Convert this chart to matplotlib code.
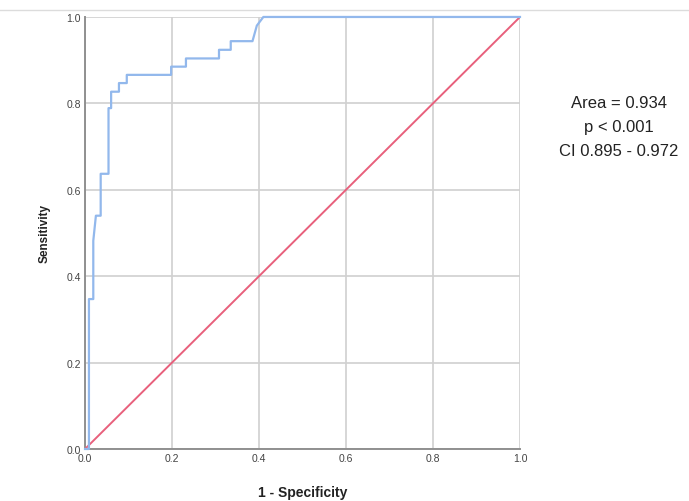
import matplotlib.pyplot as plt
from matplotlib.lines import Line2D

plt.rcParams['font.family'] = ['Liberation Sans', 'DejaVu Sans']

# ROC curve (1 - specificity, sensitivity)
fpr = [0.0, 0.009, 0.009, 0.019, 0.019, 0.025, 0.036, 0.036, 0.054, 0.054, 0.06, 0.06,
       0.078, 0.078, 0.096, 0.096, 0.198, 0.198, 0.232, 0.232, 0.308, 0.308, 0.335, 0.335,
       0.385, 0.395, 0.41, 1.0]
tpr = [0.0, 0.0, 0.347, 0.347, 0.482, 0.54, 0.54, 0.637, 0.637, 0.789, 0.789, 0.827,
       0.827, 0.847, 0.847, 0.866, 0.866, 0.885, 0.885, 0.904, 0.904, 0.924, 0.924, 0.944,
       0.944, 0.98, 1.0, 1.0]
ref_x = [0.0, 1.0]
ref_y = [0.0, 1.0]
ticks = [0.0, 0.2, 0.4, 0.6, 0.8, 1.0]
stats = ["Area = 0.934", "p < 0.001", "CI 0.895 - 0.972"]

fig = plt.figure(figsize=(6.89, 5.02), dpi=100)
ax = fig.add_axes([0.1234, 0.1036, 0.6313, 0.8606])

ax.plot(ref_x, ref_y, color='#e8607c', lw=1.4, zorder=3)
ax.plot(fpr, tpr, color='#92b8ec', lw=1.6, zorder=4, clip_on=False)

ax.set_xlim(0, 1)
ax.set_ylim(0, 1)
ax.set_xticks(ticks)
ax.set_yticks(ticks)
ax.set_xticklabels([f"{t:.1f}" for t in ticks])
ax.set_yticklabels([f"{t:.1f}" for t in ticks])
ax.tick_params(length=0, labelsize=7.5, labelcolor='#444444', pad=3)
ax.grid(True, color='#d0d0d0', lw=1.2)
ax.set_axisbelow(True)
for s in ['top', 'right']:
    ax.spines[s].set_visible(False)
for s in ['left', 'bottom']:
    ax.spines[s].set_color('#909090')
    ax.spines[s].set_linewidth(1.4)

ax.set_xlabel("1 - Specificity", fontsize=10, fontweight='bold', labelpad=16, color='#222222')
ax.set_ylabel("Sensitivity", fontsize=8.5, fontweight='bold', labelpad=11, color='#222222')

for i, s in enumerate(stats):
    fig.text(0.898, 1 - (103 + 24.5 * i) / 502, s, ha='center', va='center',
             fontsize=12, color='#222222')

fig.add_artist(Line2D([0, 1], [1 - 11 / 502, 1 - 11 / 502], color='#dcdcdc', lw=1))

fig.savefig("out.png", dpi=100)
